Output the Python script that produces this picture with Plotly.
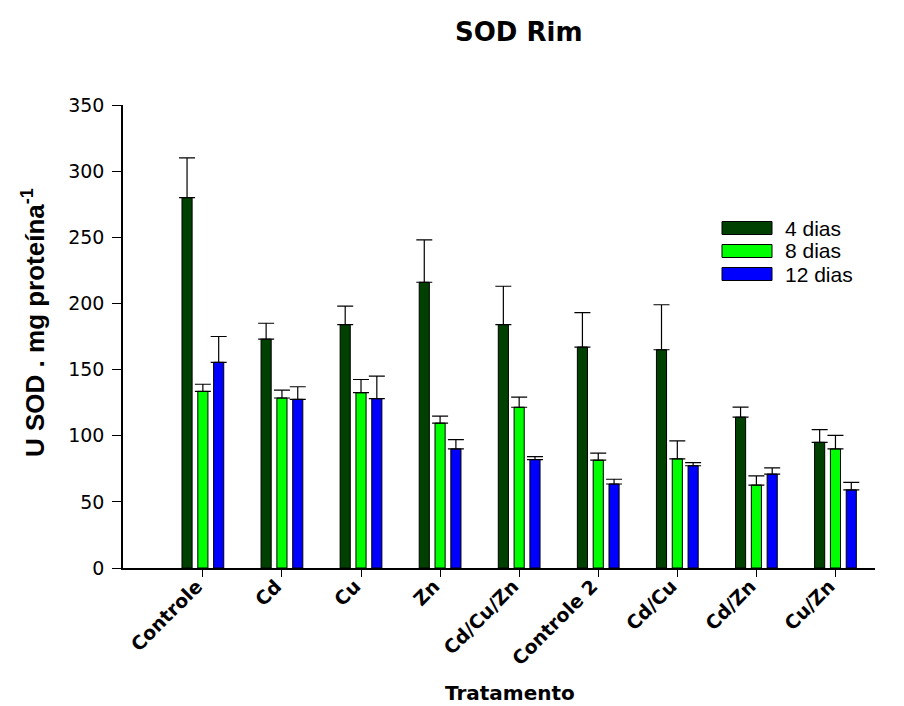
import plotly.graph_objects as go

categories = ["Controle", "Cd", "Cu", "Zn", "Cd/Cu/Zn", "Controle 2", "Cd/Cu", "Cd/Zn", "Cu/Zn"]
series_names = ["4 dias", "8 dias", "12 dias"]
dias4 = [280, 173, 184, 216, 184, 167, 165, 114, 95]
dias4_err = [30, 12, 14, 32, 29, 26, 34, 7.6, 9.6]
dias8 = [133.5, 128.5, 132.5, 109.5, 121.5, 81.5, 82.5, 62.7, 90]
dias8_err = [5.4, 6, 10, 5.3, 7.6, 5.3, 13.6, 7, 10.3]
dias12 = [155.5, 127.5, 128, 90, 82, 63.5, 77.3, 71, 59]
dias12_err = [19.5, 9.5, 17, 7, 2.2, 3.6, 2.3, 4.7, 5.8]
y_ticks = [0, 50, 100, 150, 200, 250, 300, 350]

colors = ["#004000", "#00FF00", "#0000FF"]
values = [dias4, dias8, dias12]
errors = [dias4_err, dias8_err, dias12_err]

# plot area in pixels: x 123..875, y 105..568
L, R, T, B = 123, 875, 105, 568
W, H = 904, 706


def px(x):
    return (x - L) / (R - L)


def py(y):
    return (B - y) / (B - T)


fig = go.Figure()
for name, vals, errs, col in zip(series_names, values, errors, colors):
    fig.add_trace(go.Bar(
        x=list(range(len(categories))), y=vals, name=name,
        marker=dict(color=col, line=dict(color="black", width=1)),
        error_y=dict(type="data", symmetric=False, array=errs,
                     arrayminus=[0] * len(errs), color="black",
                     thickness=1.2, width=8),
        showlegend=False,
    ))

shapes = []
annotations = []
# manual legend (wide swatches like the reference)
legend_rows = [228, 251, 274]
for name, col, yc in zip(series_names, colors, legend_rows):
    shapes.append(dict(type="rect", xref="paper", yref="paper",
                       x0=px(722), x1=px(772), y0=py(yc + 6.5), y1=py(yc - 6.5),
                       fillcolor=col, line=dict(color="black", width=1)))
    annotations.append(dict(text=name, xref="paper", yref="paper", x=px(783), y=py(yc),
                            xanchor="left", yanchor="middle", showarrow=False,
                            font=dict(family="Liberation Sans", size=21, color="black")))

# axis titles
annotations.append(dict(text="<b>U SOD . mg proteína<sup>-1</sup></b>", xref="paper", yref="paper",
                        x=px(33), y=py(323), xanchor="center", yanchor="middle", textangle=-90,
                        showarrow=False,
                        font=dict(family="Liberation Sans", size=26, color="black")))
annotations.append(dict(text="<b>Tratamento</b>", xref="paper", yref="paper",
                        x=px(510), y=py(693), xanchor="center", yanchor="middle",
                        showarrow=False,
                        font=dict(family="DejaVu Sans", size=20, color="black")))
annotations.append(dict(text="<b>SOD Rim</b>", xref="paper", yref="paper",
                        x=px(519), y=py(32), xanchor="center", yanchor="middle",
                        showarrow=False,
                        font=dict(family="DejaVu Sans", size=26, color="black")))

fig.update_layout(
    width=W, height=H,
    margin=dict(l=L, r=W - R, t=T, b=H - B, autoexpand=False),
    plot_bgcolor="white", paper_bgcolor="white",
    barmode="group", bargap=0.4, bargroupgap=0.36,
    showlegend=False,
    shapes=shapes, annotations=annotations,
)
fig.update_xaxes(
    range=[-1.01, 8.5], tickmode="array", tickvals=list(range(len(categories))),
    ticktext=categories, tickangle=-45, automargin=False,
    tickfont=dict(family="DejaVu Sans", size=19, color="black", weight="bold"),
    showline=True, linecolor="black", linewidth=1.5, ticks="outside", ticklen=7,
    tickcolor="black", showgrid=False, zeroline=False,
    ticklabelstandoff=-9, ticklabelshift=-6,
)
fig.update_yaxes(
    range=[0, 350], tickmode="array", tickvals=y_ticks, automargin=False,
    tickfont=dict(family="DejaVu Sans", size=19, color="black"),
    showline=True, linecolor="black", linewidth=1.5, ticks="outside", ticklen=9,
    tickcolor="black", showgrid=False, zeroline=False, ticklabelstandoff=4,
)

fig.write_html("out.html")
